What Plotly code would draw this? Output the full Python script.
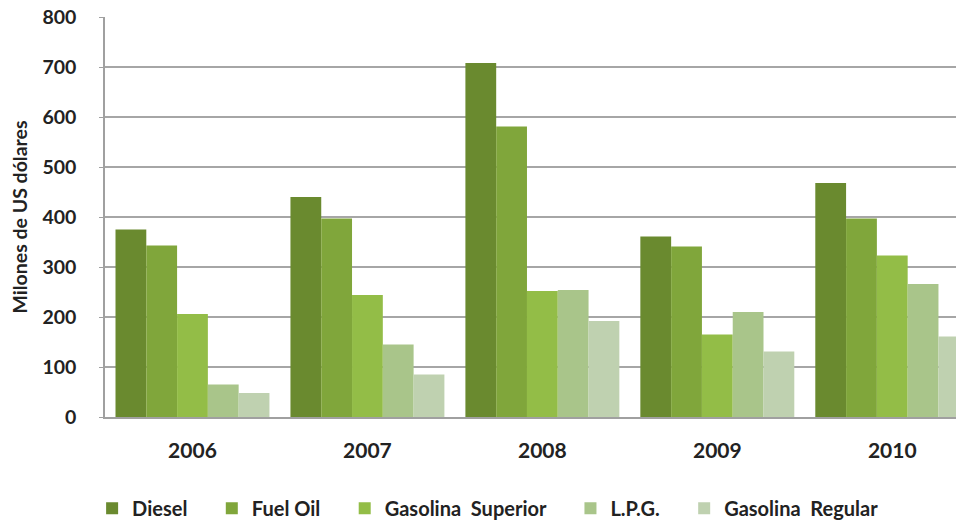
import plotly.graph_objects as go

years = ["2006", "2007", "2008", "2009", "2010"]
series_names = ["Diesel", "Fuel Oil", "Gasolina  Superior", "L.P.G.", "Gasolina  Regular"]
diesel = [375, 440, 708, 361, 468]
fuel_oil = [343, 397, 581, 341, 397]
gas_superior = [206, 244, 252, 165, 323]
lpg = [65, 145, 254, 210, 266]
gas_regular = [48, 85, 192, 131, 161]
colors = ["#6a8a2f", "#80a63b", "#93bd47", "#a9c58a", "#bfd1b0"]

values = [diesel, fuel_oil, gas_superior, lpg, gas_regular]
pad = "\u00a0" * 4

fig = go.Figure()
for name, vals, col in zip(series_names, values, colors):
    fig.add_trace(go.Bar(x=years, y=vals, name=name + pad,
                         marker=dict(color=col, line=dict(width=0))))

font_fam = "Lato"
fig.update_layout(
    width=964, height=523,
    barmode="group", bargap=0.12, bargroupgap=0,
    plot_bgcolor="white", paper_bgcolor="white",
    margin=dict(l=97, r=8, t=9, b=114, autoexpand=False),
    font=dict(family=font_fam, color="#222222", size=20, weight="bold"),
    showlegend=True,
    legend=dict(orientation="h", x=-0.015, xanchor="left", y=-0.228, yanchor="middle",
                font=dict(size=20, family=font_fam, weight="bold", color="#222222"),
                itemwidth=30, tracegroupgap=0),
    xaxis=dict(range=[-0.5, 4.41], showgrid=False, showline=True, linecolor="#a0a0a0",
               linewidth=1.5, ticks="", ticklabelstandoff=14, automargin=False,
               tickfont=dict(size=21, family=font_fam, weight="bold")),
    yaxis=dict(range=[0, 800], dtick=100, showgrid=True, gridcolor="#a6a6a6", gridwidth=1.5,
               showline=True, linecolor="#a0a0a0", linewidth=1.5, ticks="outside",
               ticklen=4, tickcolor="#a0a0a0", ticklabelstandoff=19, zeroline=False,
               automargin=False, ticklabeloverflow="allow",
               tickfont=dict(size=19.5, family=font_fam, weight="bold"),
               title=dict(text="Milones de US dólares", standoff=15,
                          font=dict(size=19.5, family=font_fam, weight="bold"))),
)
fig.write_html("out.html")
